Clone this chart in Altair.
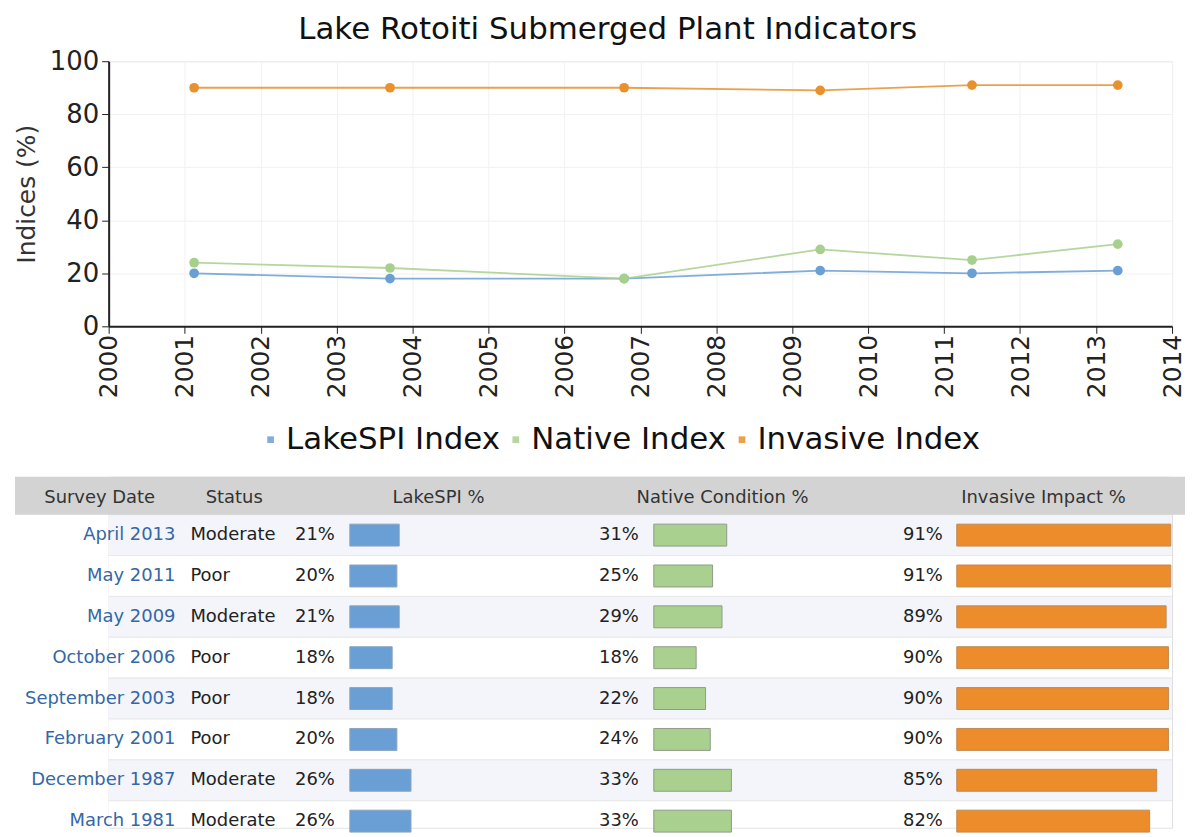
import altair as alt
import pandas as pd

# ---------------- data ----------------
survey_dates = ["April 2013", "May 2011", "May 2009", "October 2006",
                "September 2003", "February 2001", "December 1987", "March 1981"]
survey_iso = ["2013-04-15", "2011-05-15", "2009-05-15", "2006-10-15",
              "2003-09-15", "2001-02-15", "1987-12-15", "1981-03-15"]
status = ["Moderate", "Poor", "Moderate", "Poor", "Poor", "Poor", "Moderate", "Moderate"]
lakespi = [21, 20, 21, 18, 18, 20, 26, 26]
native = [31, 25, 29, 18, 22, 24, 33, 33]
invasive = [91, 91, 89, 90, 90, 90, 85, 82]

series_names = ["LakeSPI Index", "Native Index", "Invasive Index"]
series_colors = ["#6a9fd4", "#a8d08d", "#e8912d"]
y_ticks = [0, 20, 40, 60, 80, 100]

FONT = "DejaVu Sans"

# ---------------- line chart ----------------
line_rows = []
for d, a, b, c in zip(survey_iso, lakespi, native, invasive):
    if int(d[:4]) < 2000:
        continue
    for name, v in zip(series_names, (a, b, c)):
        line_rows.append({"date": d + "T00:00:00", "series": name, "value": v})
line_df = pd.DataFrame(line_rows)

x_enc = alt.X(
    "date:T",
    scale=alt.Scale(domain=[alt.DateTime(year=2000, month=1, date=1),
                            alt.DateTime(year=2014, month=1, date=1)], nice=False),
    axis=alt.Axis(format="%Y", tickCount={"interval": "year", "step": 1},
                  labelAngle=-90, title=None, labelFont=FONT, labelFontSize=25,
                  labelColor="#222", labelPadding=1, tickSize=7, tickColor="#222",
                  domainColor="#222", domainWidth=2, grid=True, gridColor="#f1f1f1"),
)
y_enc = alt.Y(
    "value:Q",
    scale=alt.Scale(domain=[0, 100], nice=False),
    axis=alt.Axis(values=y_ticks, title="Indices (%)", titleFont=FONT, titleFontSize=25,
                  titleFontWeight="normal", titleColor="#333", titlePadding=10,
                  labelFont=FONT, labelFontSize=26, labelColor="#222", labelPadding=3,
                  tickSize=7, tickColor="#222", domainColor="#222", domainWidth=2,
                  grid=True, gridColor="#f1f1f1"),
)
color_scale = alt.Scale(domain=series_names, range=series_colors)
legend = alt.Legend(orient="none", legendX=147, legendY=364,
                    direction="horizontal", title=None,
                    symbolType="square", symbolSize=45,
                    symbolStrokeWidth=0, labelFont=FONT,
                    labelFontSize=31, labelColor="#111",
                    labelOffset=0, columnPadding=-9, padding=0,
                    labelLimit=0)
color_enc = alt.Color("series:N", scale=color_scale, legend=legend)

base = alt.Chart(line_df)
lines = base.mark_line(strokeWidth=1.8, opacity=0.85).encode(x=x_enc, y=y_enc, color=color_enc)
points = base.mark_circle(size=95, opacity=1).encode(x=x_enc, y=y_enc, color=color_enc)
line_chart = alt.layer(lines, points).properties(width=1067, height=266)

# ---------------- table ----------------
table_df = pd.DataFrame({
    "row": list(range(1, len(survey_dates) + 1)),
    "date": survey_dates,
    "status": status,
    "lakespi": lakespi,
    "native": native,
    "invasive": invasive,
})

TW, TH = 1067, 352
L, R = -94, 1080          # table edges relative to the plot-area origin
HDR = 38 / 41
yscale = alt.Scale(domain=[1 - HDR, 1 - HDR + TH / 41], range=[0, TH],
                   zero=False, nice=False, padding=0)
xscale = alt.Scale(domain=[0, 100], range=[0, 236], zero=True, nice=False, padding=0)

tb = alt.Chart(table_df).transform_calculate(
    row_end="datum.row + 1",
    mid="datum.row + 0.5",
    spi_lbl="datum.lakespi + '%'",
    nat_lbl="datum.native + '%'",
    inv_lbl="datum.invasive + '%'",
)

row_bg = tb.mark_rect(stroke="#e8e8e8", strokeWidth=1, clip=True).encode(
    x=alt.value(L), x2=alt.value(R),
    y=alt.Y("row:Q", scale=yscale, axis=None), y2="row_end:Q",
    fill=alt.condition("datum.row % 2 == 1", alt.value("#f3f5fa"), alt.value("#ffffff")),
)

header_bg = alt.Chart(alt.Data(values=[{}])).mark_rect(fill="#d3d3d3").encode(
    x=alt.value(L), x2=alt.value(R), y=alt.value(0), y2=alt.value(38)
)

header_specs = [("Survey Date", -9), ("Status", 126), ("LakeSPI %", 331),
                ("Native Condition %", 616), ("Invasive Impact %", 938)]
header_texts = [
    alt.Chart(alt.Data(values=[{}])).mark_text(
        text=t, align="center", baseline="middle", font=FONT, fontSize=18, color="#333"
    ).encode(x=alt.value(xp), y=alt.value(21))
    for t, xp in header_specs
]

ymid = alt.Y("mid:Q", scale=yscale, axis=None)
txt_kw = dict(baseline="middle", font=FONT, fontSize=18)

date_txt = tb.mark_text(align="right", color="#3467a6", **txt_kw).encode(
    x=alt.value(67), y=ymid, text="date:N")
status_txt = tb.mark_text(align="left", color="#222", **txt_kw).encode(
    x=alt.value(82), y=ymid, text="status:N")
spi_txt = tb.mark_text(align="right", color="#222", **txt_kw).encode(
    x=alt.value(227), y=ymid, text="spi_lbl:N")
nat_txt = tb.mark_text(align="right", color="#222", **txt_kw).encode(
    x=alt.value(532), y=ymid, text="nat_lbl:N")
inv_txt = tb.mark_text(align="right", color="#222", **txt_kw).encode(
    x=alt.value(837), y=ymid, text="inv_lbl:N")


def bar_layer(field, offset, fill, stroke):
    return tb.mark_bar(height=22, xOffset=offset, x2Offset=offset, fill=fill,
                       stroke=stroke, strokeWidth=1).encode(
        x=alt.X(f"{field}:Q", scale=xscale, axis=None),
        x2=alt.datum(0),
        y=ymid,
    )


spi_bar = bar_layer("lakespi", 242, "#6a9fd6", "#8aa4c0")
nat_bar = bar_layer("native", 547, "#a9d08e", "#8f9c88")
inv_bar = bar_layer("invasive", 851, "#ed8c2b", "#c08a55")

table = alt.layer(row_bg, header_bg, *header_texts, date_txt, status_txt,
                  spi_txt, spi_bar, nat_txt, nat_bar, inv_txt, inv_bar
                  ).properties(width=TW, height=TH)

chart = alt.vconcat(
    line_chart, table, spacing=77,
    title=alt.TitleParams("Lake Rotoiti Submerged Plant Indicators", font=FONT,
                          fontSize=31, fontWeight="normal", color="#111",
                          anchor="middle", offset=2, dx=8),
    padding={"left": 5, "top": 4, "right": 0, "bottom": 0},
).configure_view(strokeWidth=0).configure(font=FONT)

chart.save("out.html", embed_options={"renderer": "svg", "actions": False})
